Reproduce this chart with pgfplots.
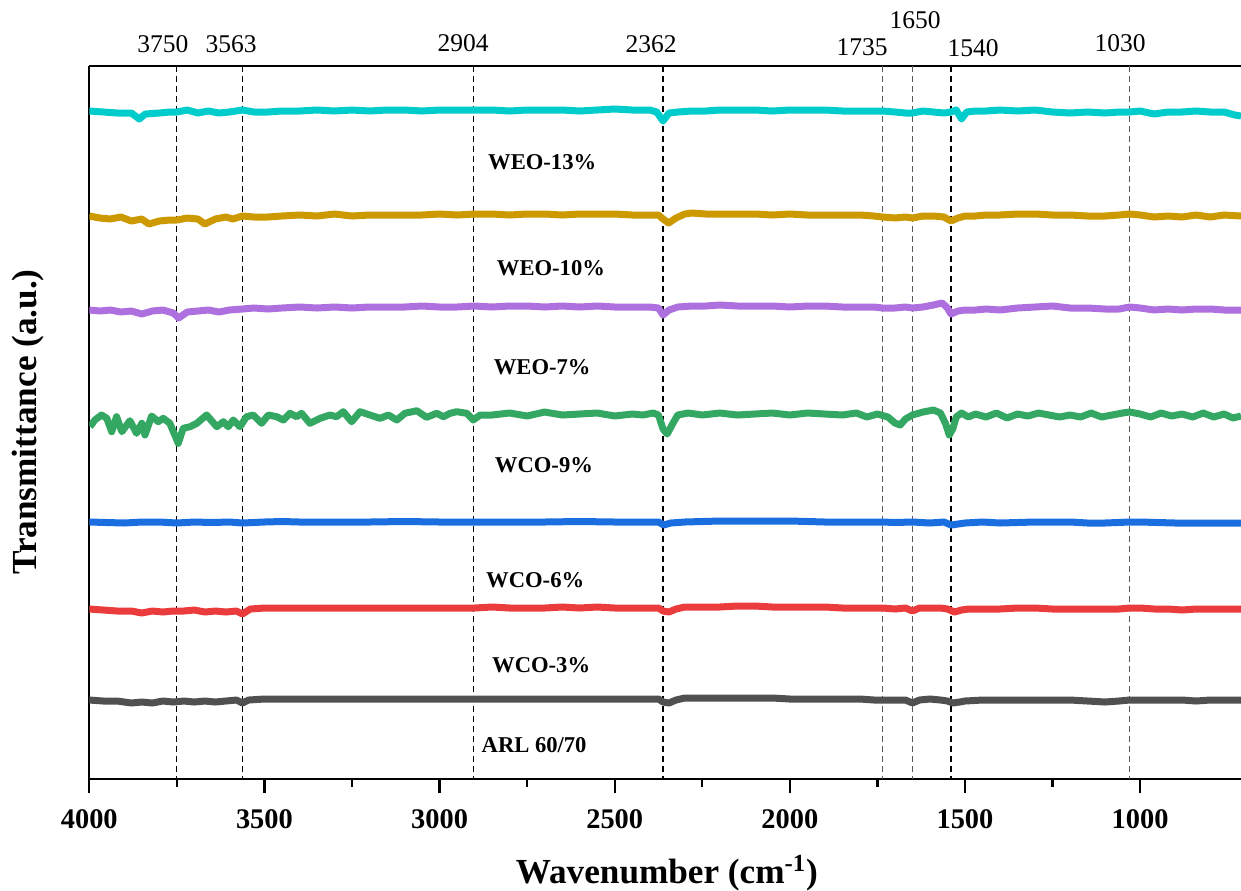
\documentclass[border=0pt]{standalone}
\usepackage{fontspec}
\setmainfont{Liberation Serif}
\usepackage{pgfplots}
\pgfplotsset{compat=1.18}
\definecolor{ccyan}{RGB}{0,204,204}
\definecolor{cgold}{RGB}{204,153,0}
\definecolor{cpurple}{RGB}{174,112,222}
\definecolor{cgreen}{RGB}{52,168,98}
\definecolor{cblue}{RGB}{26,110,224}
\definecolor{cred}{RGB}{234,60,60}
\definecolor{cgray}{RGB}{80,80,80}
\begin{document}
\begin{tikzpicture}
\begin{axis}[
 scale only axis, width=575.85pt, height=356.65pt,
 x dir=reverse, xmin=712, xmax=4000,
 y dir=reverse, ymin=65.7, ymax=779,
 axis x line*=box, axis y line*=left,
 axis line style={-, line width=1.2pt},
 xtick={1000,1500,2000,2500,3000,3500,4000}, minor x tick num=1,
 xtick pos=left, tick align=outside,
 major tick length=7pt, minor tick length=4pt,
 tick style={line width=1.2pt, black},
 ytick=\empty,
 xticklabel style={font=\fontsize{14.2}{16}\selectfont\bfseries, yshift=-5pt},
 /pgf/number format/assume math mode=true, /pgf/number format/1000 sep={},
 clip mode=individual,
]
% dashed reference lines
\addplot[black, line width=0.55pt, dash pattern=on 3pt off 2pt] coordinates {(3750,65.7) (3750,779)};
\addplot[black, line width=0.55pt, dash pattern=on 3pt off 2pt] coordinates {(3563,65.7) (3563,779)};
\addplot[black, line width=0.55pt, dash pattern=on 3pt off 2pt] coordinates {(2904,65.7) (2904,779)};
\addplot[black, line width=0.55pt, dash pattern=on 3pt off 2pt] coordinates {(2362,65.7) (2362,779)};
\addplot[black!65, line width=0.55pt, dash pattern=on 3pt off 2pt] coordinates {(1735,65.7) (1735,779)};
\addplot[black!65, line width=0.55pt, dash pattern=on 3pt off 2pt] coordinates {(1650,65.7) (1650,779)};
\addplot[black, line width=0.55pt, dash pattern=on 3pt off 2pt] coordinates {(1540,65.7) (1540,779)};
\addplot[black!65, line width=0.55pt, dash pattern=on 3pt off 2pt] coordinates {(1030,65.7) (1030,779)};

% WEO-13% (cyan)
\addplot[ccyan, line width=3.5pt, line join=round] coordinates {
(4000,111) (3960,112) (3920,113) (3880,113) (3857,119) (3840,114) (3800,113) (3770,112) (3750,112) (3720,110) (3690,113) (3660,111) (3630,113) (3600,112) (3563,110) (3530,112) (3490,112) (3450,111) (3400,111) (3350,110) (3300,111) (3250,110) (3200,111) (3150,110) (3100,110) (3050,111) (3000,110) (2950,110) (2900,110) (2850,110) (2800,111) (2750,110) (2700,110) (2650,110) (2600,111) (2550,110) (2500,109) (2450,110) (2400,110) (2380,112) (2362,121) (2345,113) (2320,112) (2280,111) (2240,111) (2200,110) (2150,110) (2100,110) (2050,111) (2000,110) (1950,110) (1900,110) (1850,111) (1800,111) (1760,111) (1735,111) (1700,112) (1670,113) (1650,113) (1620,111) (1590,112) (1560,113) (1540,112) (1525,110) (1510,119) (1495,112) (1470,111) (1440,111) (1400,110) (1350,111) (1300,110) (1250,112) (1200,113) (1150,112) (1100,113) (1060,112) (1030,112) (1000,111) (960,114) (920,112) (880,112) (840,111) (800,112) (760,112) (730,115) (712,116)};

% WEO-10% (gold)
\addplot[cgold, line width=3.5pt, line join=round] coordinates {
(4000,216) (3970,218) (3940,219) (3910,217) (3880,221) (3850,219) (3830,224) (3800,221) (3770,220) (3750,220) (3720,218) (3690,219) (3670,224) (3640,219) (3610,217) (3590,219) (3563,216) (3530,217) (3490,217) (3450,216) (3400,215) (3350,216) (3300,214) (3250,216) (3200,215) (3150,215) (3100,215) (3050,215) (3000,214) (2950,215) (2900,214) (2850,214) (2800,215) (2750,214) (2700,214) (2650,215) (2600,214) (2550,214) (2500,214) (2450,215) (2400,215) (2375,215) (2362,219) (2346,223) (2325,218) (2300,214) (2280,213) (2240,214) (2200,214) (2150,214) (2100,214) (2050,215) (2000,214) (1950,215) (1900,215) (1850,215) (1800,215) (1760,216) (1735,217) (1700,218) (1670,217) (1650,218) (1620,216) (1590,216) (1560,217) (1540,221) (1520,218) (1500,216) (1470,216) (1440,215) (1400,215) (1350,214) (1300,214) (1250,215) (1200,215) (1150,216) (1100,216) (1060,215) (1030,214) (1000,215) (960,217) (920,216) (880,217) (840,215) (800,217) (760,215) (712,216)};

% WEO-7% (purple)
\addplot[cpurple, line width=3.5pt, line join=round] coordinates {
(4000,310) (3970,311) (3940,310) (3910,312) (3880,311) (3850,314) (3820,311) (3790,310) (3760,313) (3745,318) (3720,312) (3690,311) (3660,310) (3630,312) (3600,310) (3563,309) (3530,308) (3490,309) (3450,308) (3400,307) (3350,308) (3300,307) (3250,308) (3200,307) (3150,307) (3100,307) (3050,306) (3000,307) (2950,307) (2900,306) (2850,307) (2800,306) (2750,306) (2700,307) (2650,306) (2600,307) (2550,306) (2500,307) (2450,307) (2400,307) (2375,308) (2362,315) (2345,310) (2320,307) (2280,306) (2240,306) (2200,305) (2150,306) (2100,306) (2050,306) (2000,307) (1950,306) (1900,306) (1850,307) (1800,307) (1760,307) (1735,308) (1700,308) (1670,307) (1650,308) (1620,307) (1590,305) (1565,303) (1550,308) (1540,314) (1520,311) (1500,310) (1470,310) (1440,309) (1400,310) (1350,308) (1300,307) (1250,306) (1200,308) (1150,308) (1100,309) (1060,309) (1030,307) (1000,308) (960,310) (920,309) (880,310) (840,309) (800,309) (760,310) (712,310)};

% WCO-9% (green)
\addplot[cgreen, line width=3.5pt, line join=round] coordinates {
(3998,426.7) (3984,420) (3965,415) (3950,418.3) (3936,431.7) (3922,416.7) (3907,431.7) (3884,420.7) (3865,433.3) (3850,423.3) (3841,435) (3822,416) (3803,421.7) (3789,418.3) (3770,423.3) (3746,443.3) (3732,428.3) (3712,426.7) (3693,423.3) (3665,415) (3636,426.7) (3617,421.7) (3603,426.7) (3589,420) (3570,426.7) (3551,416.7) (3532,415) (3508,423.3) (3489,415) (3465,416.7) (3446,420) (3427,413.3) (3408,416.7) (3394,413.3) (3370,423.3) (3341,418.3) (3313,415) (3294,416.7) (3275,411.7) (3251,421.7) (3227,411.7) (3199,415) (3170,418.3) (3146,415) (3122,420) (3099,413.3) (3065,410.7) (3037,417.3) (3008,413.3) (2989,416.7) (2970,413.3) (2951,411.7) (2922,413.3) (2904,420) (2884,415)
(2850,415) (2800,413) (2750,416) (2700,412) (2650,415) (2600,414) (2550,413) (2500,416) (2450,414) (2420,415) (2390,413) (2375,415) (2362,429) (2350,434) (2335,424) (2320,415) (2290,413) (2250,415) (2200,413) (2150,415) (2100,414) (2050,413) (2000,415) (1950,413) (1900,414) (1850,415) (1810,413) (1780,417) (1750,414) (1720,417) (1700,423) (1685,425) (1670,419) (1650,415) (1620,412) (1590,410) (1570,413) (1555,424) (1545,435) (1535,429) (1525,417) (1510,413) (1490,417) (1470,414) (1440,417) (1410,413) (1380,418) (1350,414) (1320,416) (1290,413) (1260,415) (1230,417) (1200,415) (1170,417) (1140,413) (1110,417) (1080,415) (1050,413) (1030,412) (1000,414) (970,417) (940,413) (910,416) (880,414) (850,417) (820,413) (790,417) (760,414) (735,418) (712,416)};

% WCO-6% (blue)
\addplot[cblue, line width=3.5pt, line join=round] coordinates {
(4000,522) (3950,522.5) (3900,523) (3850,522) (3800,522) (3750,523) (3700,522) (3650,522.5) (3600,522) (3563,523) (3500,522) (3450,521.5) (3400,522) (3300,522) (3200,522) (3100,521.5) (3000,522) (2900,522) (2800,522) (2700,522) (2600,521.5) (2500,522) (2400,522) (2375,522) (2360,525) (2340,523) (2300,522) (2200,521) (2100,521) (2000,521) (1900,522) (1800,522) (1735,522) (1700,522.5) (1650,522) (1600,523) (1560,522) (1540,525) (1520,524) (1500,523) (1450,522) (1400,523) (1300,522) (1200,522) (1150,523) (1100,523) (1030,522) (1000,522) (900,523) (800,523) (712,523)};

% WCO-3% (red)
\addplot[cred, line width=3.5pt, line join=round] coordinates {
(4000,609) (3960,610) (3920,611) (3880,611) (3850,613) (3820,611) (3790,612) (3760,611) (3730,611) (3700,610) (3670,612) (3640,611) (3610,612) (3580,611) (3563,614) (3540,609) (3500,608) (3450,608) (3400,608) (3350,608) (3300,608) (3250,608) (3200,608) (3150,608) (3100,608) (3050,608) (3000,608) (2950,608) (2900,608) (2850,607) (2800,608) (2750,608) (2700,608) (2650,607) (2600,608) (2550,607) (2500,608) (2450,608) (2400,608) (2375,608) (2362,611) (2345,612) (2325,609) (2300,607) (2250,607) (2200,607) (2150,606) (2100,606) (2050,607) (2000,607) (1950,607) (1900,607) (1850,608) (1800,608) (1760,608) (1735,608) (1700,609) (1670,608) (1650,611) (1630,608) (1600,608) (1570,608) (1550,609) (1530,612) (1510,610) (1490,609) (1450,609) (1400,609) (1350,608) (1300,608) (1250,609) (1200,609) (1150,609) (1100,609) (1060,609) (1030,608) (1000,608) (960,609) (920,609) (880,610) (840,609) (800,609) (760,609) (712,609)};

% ARL 60/70 (gray)
\addplot[cgray, line width=3.5pt, line join=round] coordinates {
(4000,700) (3960,701) (3920,701) (3880,703) (3850,702) (3820,703) (3790,701) (3760,702) (3730,701) (3700,702) (3670,701) (3640,702) (3610,701) (3580,700) (3563,703) (3545,700) (3500,699) (3450,699) (3400,699) (3350,699) (3300,699) (3250,699) (3200,699) (3150,699) (3100,699) (3050,699) (3000,699) (2950,699) (2900,699) (2850,699) (2800,699) (2750,699) (2700,699) (2650,699) (2600,699) (2550,699) (2500,699) (2450,699) (2400,699) (2375,699) (2362,702) (2345,703) (2325,700) (2300,698) (2250,698) (2200,698) (2150,698) (2100,698) (2050,698) (2000,699) (1950,699) (1900,699) (1850,699) (1800,699) (1760,700) (1735,700) (1700,700) (1670,700) (1650,703) (1630,700) (1600,699) (1570,700) (1550,701) (1535,703) (1515,702) (1500,701) (1450,700) (1400,700) (1350,700) (1300,700) (1250,700) (1200,700) (1150,701) (1100,702) (1060,701) (1030,700) (1000,700) (960,700) (920,700) (880,700) (840,701) (800,700) (760,700) (712,700)};

% curve labels
\begin{scope}[font=\fontsize{11.3}{13}\selectfont\bfseries]
\node at (axis cs:2707,162) {WEO-13\%};
\node at (axis cs:2682,268) {WEO-10\%};
\node at (axis cs:2707,367) {WEO-7\%};
\node at (axis cs:2702,465) {WCO-9\%};
\node at (axis cs:2727,580) {WCO-6\%};
\node at (axis cs:2710,665) {WCO-3\%};
\node at (axis cs:2730,745) {ARL 60/70};
\end{scope}
% peak labels
\begin{scope}[font=\fontsize{12.75}{14}\selectfont]
\node at (axis cs:3790,44) {3750};
\node at (axis cs:3595,44) {3563};
\node at (axis cs:2933,43) {2904};
\node at (axis cs:2396,44) {2362};
\node at (axis cs:1794,47) {1735};
\node at (axis cs:1642,20) {1650};
\node at (axis cs:1477,48) {1540};
\node at (axis cs:1057,43) {1030};
\end{scope}
\node[font=\fontsize{17.6}{20}\selectfont\bfseries] at (axis cs:2351,873) {Wavenumber (cm\textsuperscript{-1})};
\node[rotate=90, font=\fontsize{17.6}{20}\selectfont\bfseries] at (axis cs:4175,422) {Transmittance (a.u.)};
\coordinate (bl) at (axis cs:4000,779);
\coordinate (tr) at (axis cs:712,65.7);
\end{axis}
\pgfresetboundingbox
\path[use as bounding box] ([shift={(-44.65pt,-55.5pt)}]bl) rectangle ([shift={(0pt,32.85pt)}]tr);
\end{tikzpicture}
\end{document}
